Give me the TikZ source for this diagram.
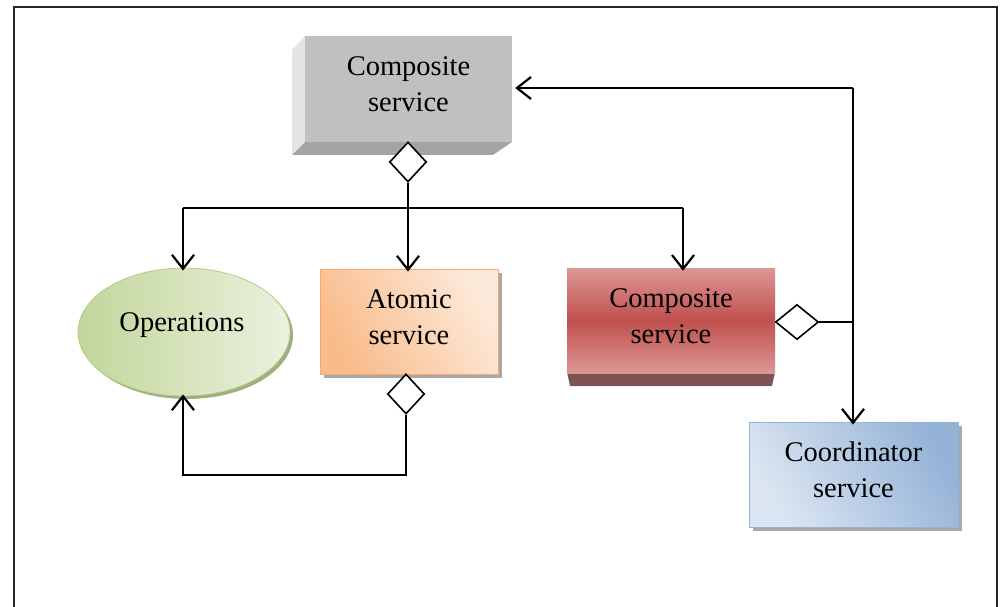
\documentclass[tikz,border=0pt]{standalone}
\usepackage{fontspec}
\setmainfont{Liberation Serif}
\usetikzlibrary{arrows.meta,shapes.geometric}
\definecolor{grayface}{HTML}{C0C0C0}
\definecolor{graylight}{HTML}{E4E4E4}
\definecolor{graydark}{HTML}{A4A4A4}
\definecolor{greenA}{HTML}{C2D69B}
\definecolor{greenB}{HTML}{EBF1DE}
\definecolor{greenE}{HTML}{B5CC8A}
\definecolor{greenS}{HTML}{9FB07F}
\definecolor{orA}{HTML}{F9BB8A}
\definecolor{orB}{HTML}{FDEADA}
\definecolor{orE}{HTML}{F7A870}
\definecolor{redA}{HTML}{DB9796}
\definecolor{redB}{HTML}{C0504D}
\definecolor{redD}{HTML}{7D5453}
\definecolor{blA}{HTML}{DCE6F2}
\definecolor{blB}{HTML}{95B3D7}
\definecolor{blE}{HTML}{8EAED6}
\definecolor{shd}{HTML}{A8A8A8}
\begin{document}
\begin{tikzpicture}[x=1pt,y=-1pt,
  lbl/.style={align=center,font=\fontsize{28.5}{36}\selectfont,inner sep=0pt},
  conn/.style={line width=2.2pt},
  arr/.style={conn,-{Straight Barb[length=14pt,width=22pt]}},
  dia/.style={diamond,draw,fill=white,line width=1.6pt,inner sep=0pt,minimum width=37pt,minimum height=40pt},
  box/.style={rectangle,inner sep=0pt,align=center,text depth=9pt,font=\fontsize{28.5}{36}\selectfont}
]
\useasboundingbox (0,0) rectangle (1004,607);
% frame
\draw[line width=2.5pt,black!85] (14,608) -- (14,7) -- (997,7) -- (997,608);

% top composite service (3D slab)
\fill[graylight] (292,50) -- (305,36) -- (305,142) -- (292,155) -- cycle;
\fill[graydark] (305,142) -- (512,142) -- (493,155) -- (292,155) -- cycle;
\node[box,fill=grayface,minimum width=207pt,minimum height=106pt] (cs1) at (408.5,89) {Composite\\service};

% operations ellipse
\fill[greenS] (187,335) ellipse (106pt and 64pt);
\node[ellipse,draw=greenE,line width=0.8pt,left color=greenA,right color=greenB,minimum width=212pt,minimum height=128pt,inner sep=0pt] (ops) at (184,332) {};
\node[lbl] (opsT) at (182,325) {Operations};

% atomic service
\fill[shd] (324,273) rectangle (502,378);
\node[box,draw=orE,line width=0.8pt,left color=orA,right color=orB,shading angle=120,minimum width=178pt,minimum height=105pt] (atom) at (409,321.5) {Atomic\\service};

% red composite service
\fill[redD] (567,372) -- (775,372) -- (772,386) -- (570,386) -- cycle;
\node[box,top color=redA,bottom color=redA,middle color=redB,minimum width=208pt,minimum height=105pt] (cs2) at (671,320.5) {Composite\\service};

% coordinator service
\fill[shd!80!blB] (753,426) rectangle (962,531);
\node[box,draw=blB,line width=0.8pt,left color=blA,right color=blB,shading angle=120,minimum width=209pt,minimum height=105pt] (coord) at (853.5,474.5) {Coordinator\\service};

% diamonds
\node[dia] (d1) at (408,162) {};
\node[dia] (d2) at (406,394) {};
\node[dia,minimum width=43pt,minimum height=35pt] (d3) at (797,322) {};

% connectors
\coordinate (jL) at (183,208);
\coordinate (jM) at (408,208);
\coordinate (jR) at (683,208);
\coordinate (bot) at (406,475);
\coordinate (tr) at (853,88);

\draw[conn] (d1.south) -- (jM);
\draw[conn] (jL) -- (jR);
\draw[arr] (jL) -- ([yshift=-3pt]jL |- ops.north);
\draw[arr] (jM) -- ([yshift=-3pt]jM |- atom.north);
\draw[arr] (jR) -- ([yshift=-3pt]jR |- cs2.north);
\draw[arr] (d2.south) -- (bot) -| ([yshift=2pt]jL |- ops.south);
\draw[conn] (d3.east) -- (d3.east -| tr);
\draw[arr] (tr) -- ([xshift=3pt]cs1.east |- tr);
\draw[arr] (tr) -- ([yshift=-3pt]tr |- coord.north);
\end{tikzpicture}
\end{document}
